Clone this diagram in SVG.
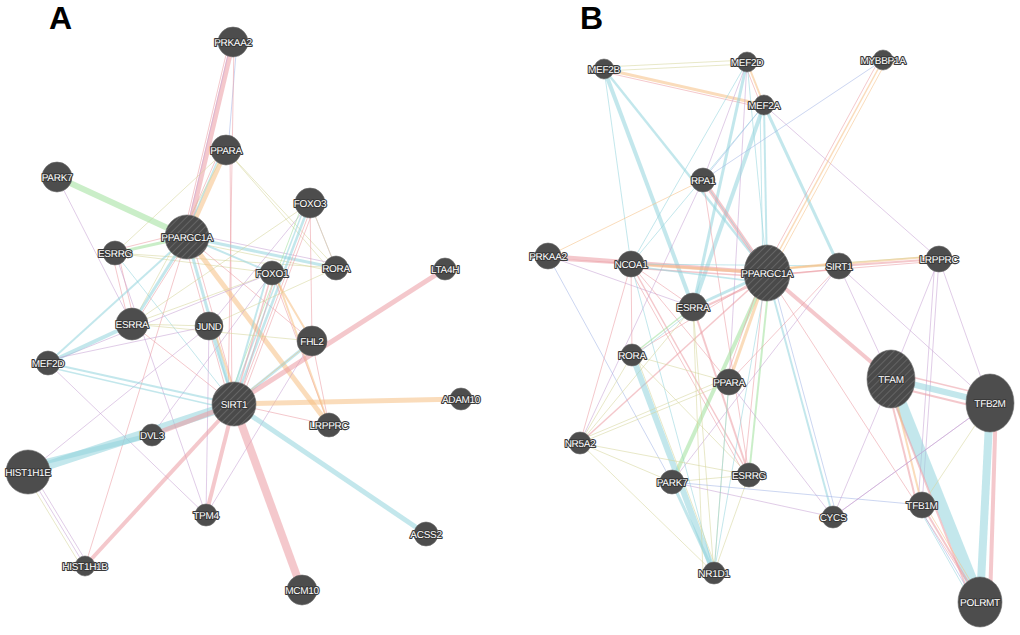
<svg xmlns="http://www.w3.org/2000/svg" width="1020" height="635" viewBox="0 0 1020 635">
<defs>
<pattern id="hatch" patternUnits="userSpaceOnUse" width="5" height="5" patternTransform="rotate(45)">
<rect width="5" height="5" fill="#4a4a4a"/><line x1="0" y1="0" x2="0" y2="5" stroke="#767676" stroke-width="1.2"/>
</pattern>
</defs>
<style>
.e line{stroke-opacity:0.55;stroke-linecap:butt;fill:none}
.r{stroke:#eb9aa3}.c{stroke:#92d3dd}.o{stroke:#f5c083}.g{stroke:#9ee09a}.p{stroke:#c7a3d3}.y{stroke:#d6d69a}.b{stroke:#a3b5e6}
.n circle,.n ellipse{fill:#4d4d4d;stroke:#6a6a6a;stroke-width:0.6}
.n .h{fill:url(#hatch)}
.n text{font-family:"Liberation Sans",Arial,sans-serif;font-size:10px;letter-spacing:-0.3px;fill:#ffffff;stroke:#3a3a3a;stroke-width:2.2;paint-order:stroke fill;text-anchor:middle;stroke-linejoin:round;text-rendering:geometricPrecision}
.lbl{font-family:"Liberation Sans",Arial,sans-serif;font-size:32px;font-weight:bold;fill:#000}
</style>
<rect width="1020" height="635" fill="#fff"/>
<text class="lbl" x="49" y="29">A</text>
<text class="lbl" x="580" y="29">B</text>

<g id="connectors" class="e">
<!-- Panel A -->
<line class="r" x1="233" y1="42" x2="187" y2="237" stroke-width="5"/>
<line class="r" x1="229" y1="42" x2="183" y2="237" stroke-width="1"/>
<line class="p" x1="231" y1="42" x2="185" y2="237" stroke-width="1"/>
<line class="b" x1="237" y1="42" x2="228" y2="150" stroke-width="1"/>
<line class="r" x1="234" y1="42" x2="228" y2="404" stroke-width="1"/>
<line class="o" x1="226" y1="150" x2="187" y2="237" stroke-width="5"/>
<line class="c" x1="222" y1="150" x2="185" y2="237" stroke-width="1.5"/>
<line class="r" x1="220" y1="150" x2="182" y2="237" stroke-width="1"/>
<line class="r" x1="230" y1="150" x2="232" y2="404" stroke-width="1"/>
<line class="y" x1="226" y1="150" x2="115" y2="253" stroke-width="1"/>
<line class="y" x1="226" y1="150" x2="336" y2="268" stroke-width="1"/>
<line class="y" x1="226" y1="150" x2="332" y2="272" stroke-width="1"/>
<line class="y" x1="226" y1="150" x2="132" y2="324" stroke-width="1"/>
<line class="g" x1="57" y1="177" x2="187" y2="237" stroke-width="6"/>
<line class="p" x1="57" y1="177" x2="132" y2="324" stroke-width="1"/>
<line class="g" x1="115" y1="253" x2="187" y2="237" stroke-width="3"/>
<line class="r" x1="115" y1="250" x2="187" y2="232" stroke-width="1"/>
<line class="r" x1="112" y1="253" x2="129" y2="324" stroke-width="1"/>
<line class="r" x1="118" y1="253" x2="135" y2="324" stroke-width="1"/>
<line class="y" x1="115" y1="253" x2="336" y2="268" stroke-width="1"/>
<line class="y" x1="115" y1="253" x2="272" y2="273" stroke-width="1"/>
<line class="p" x1="115" y1="253" x2="206" y2="515" stroke-width="1"/>
<line class="c" x1="115" y1="253" x2="234" y2="404" stroke-width="1"/>
<line class="c" x1="187" y1="237" x2="132" y2="324" stroke-width="3"/>
<line class="r" x1="190" y1="237" x2="135" y2="324" stroke-width="1"/>
<line class="c" x1="187" y1="237" x2="234" y2="404" stroke-width="3"/>
<line class="r" x1="183" y1="237" x2="230" y2="404" stroke-width="1"/>
<line class="r" x1="191" y1="237" x2="238" y2="404" stroke-width="1"/>
<line class="c" x1="187" y1="237" x2="336" y2="268" stroke-width="3"/>
<line class="p" x1="187" y1="233" x2="336" y2="264" stroke-width="1"/>
<line class="y" x1="187" y1="241" x2="336" y2="272" stroke-width="1"/>
<line class="c" x1="187" y1="237" x2="272" y2="273" stroke-width="2"/>
<line class="o" x1="187" y1="237" x2="329" y2="425" stroke-width="5"/>
<line class="r" x1="187" y1="237" x2="312" y2="341" stroke-width="1"/>
<line class="c" x1="187" y1="237" x2="48" y2="363" stroke-width="2"/>
<line class="r" x1="187" y1="237" x2="85" y2="566" stroke-width="1"/>
<line class="p" x1="310" y1="203" x2="336" y2="268" stroke-width="1"/>
<line class="y" x1="310" y1="203" x2="132" y2="324" stroke-width="1"/>
<line class="p" x1="310" y1="203" x2="209" y2="326" stroke-width="1"/>
<line class="c" x1="310" y1="203" x2="234" y2="404" stroke-width="2.5"/>
<line class="c" x1="306" y1="203" x2="230" y2="404" stroke-width="1.5"/>
<line class="r" x1="313" y1="203" x2="237" y2="404" stroke-width="1"/>
<line class="r" x1="316" y1="203" x2="240" y2="404" stroke-width="1"/>
<line class="g" x1="303" y1="203" x2="227" y2="404" stroke-width="1"/>
<line class="r" x1="310" y1="203" x2="312" y2="341" stroke-width="1"/>
<line class="y" x1="310" y1="203" x2="336" y2="268" stroke-width="1"/>
<line class="r" x1="272" y1="273" x2="234" y2="404" stroke-width="1.5"/>
<line class="r" x1="276" y1="273" x2="238" y2="404" stroke-width="1"/>
<line class="c" x1="268" y1="273" x2="230" y2="404" stroke-width="2"/>
<line class="r" x1="272" y1="273" x2="329" y2="425" stroke-width="1"/>
<line class="o" x1="275" y1="273" x2="329" y2="425" stroke-width="2"/>
<line class="o" x1="272" y1="273" x2="312" y2="341" stroke-width="2"/>
<line class="y" x1="272" y1="273" x2="132" y2="324" stroke-width="1"/>
<line class="p" x1="272" y1="273" x2="48" y2="363" stroke-width="1"/>
<line class="p" x1="272" y1="273" x2="152" y2="435" stroke-width="1"/>
<line class="y" x1="336" y1="268" x2="209" y2="326" stroke-width="1"/>
<line class="c" x1="312" y1="341" x2="234" y2="404" stroke-width="3"/>
<line class="o" x1="312" y1="341" x2="238" y2="400" stroke-width="1"/>
<line class="p" x1="312" y1="341" x2="206" y2="515" stroke-width="1"/>
<line class="y" x1="312" y1="341" x2="132" y2="324" stroke-width="1"/>
<line class="r" x1="312" y1="341" x2="329" y2="425" stroke-width="1"/>
<line class="c" x1="209" y1="326" x2="234" y2="404" stroke-width="2"/>
<line class="o" x1="213" y1="326" x2="238" y2="404" stroke-width="2"/>
<line class="p" x1="209" y1="326" x2="206" y2="515" stroke-width="1"/>
<line class="y" x1="209" y1="326" x2="132" y2="324" stroke-width="1"/>
<line class="p" x1="209" y1="326" x2="28" y2="472" stroke-width="1"/>
<line class="r" x1="132" y1="324" x2="234" y2="404" stroke-width="1"/>
<line class="c" x1="48" y1="363" x2="132" y2="324" stroke-width="4"/>
<line class="p" x1="48" y1="360" x2="209" y2="326" stroke-width="1"/>
<line class="c" x1="48" y1="363" x2="234" y2="404" stroke-width="2"/>
<line class="c" x1="48" y1="367" x2="234" y2="410" stroke-width="1.5"/>
<line class="p" x1="48" y1="363" x2="206" y2="515" stroke-width="1"/>
<line class="c" x1="28" y1="472" x2="234" y2="404" stroke-width="9"/>
<line class="c" x1="28" y1="466" x2="152" y2="435" stroke-width="5"/>
<line class="p" x1="28" y1="472" x2="85" y2="566" stroke-width="1"/>
<line class="p" x1="32" y1="472" x2="89" y2="566" stroke-width="1"/>
<line class="y" x1="24" y1="472" x2="81" y2="566" stroke-width="1"/>
<line class="r" x1="152" y1="435" x2="234" y2="404" stroke-width="5"/>
<line class="r" x1="85" y1="566" x2="234" y2="404" stroke-width="4"/>
<line class="r" x1="206" y1="515" x2="234" y2="404" stroke-width="4"/>
<line class="r" x1="302" y1="590" x2="234" y2="404" stroke-width="8"/>
<line class="c" x1="426" y1="534" x2="234" y2="404" stroke-width="5"/>
<line class="o" x1="461" y1="399" x2="234" y2="404" stroke-width="5"/>
<line class="r" x1="445" y1="269" x2="234" y2="404" stroke-width="5"/>
<line class="r" x1="234" y1="404" x2="329" y2="425" stroke-width="1"/>
<!-- Panel B -->
<line class="y" x1="604" y1="67" x2="747" y2="60" stroke-width="1"/>
<line class="y" x1="604" y1="71" x2="747" y2="64" stroke-width="1"/>
<line class="o" x1="604" y1="69" x2="764" y2="105" stroke-width="3"/>
<line class="r" x1="604" y1="72" x2="764" y2="108" stroke-width="1"/>
<line class="o" x1="747" y1="62" x2="764" y2="105" stroke-width="2"/>
<line class="r" x1="744" y1="62" x2="761" y2="105" stroke-width="1"/>
<line class="c" x1="604" y1="69" x2="631" y2="264" stroke-width="1"/>
<line class="c" x1="604" y1="69" x2="693" y2="307" stroke-width="4"/>
<line class="c" x1="604" y1="69" x2="767" y2="273" stroke-width="2.5"/>
<line class="c" x1="747" y1="62" x2="693" y2="307" stroke-width="3"/>
<line class="c" x1="747" y1="62" x2="631" y2="264" stroke-width="1"/>
<line class="c" x1="747" y1="62" x2="767" y2="273" stroke-width="1"/>
<line class="p" x1="747" y1="62" x2="703" y2="180" stroke-width="1"/>
<line class="p" x1="747" y1="62" x2="729" y2="382" stroke-width="1"/>
<line class="c" x1="764" y1="105" x2="693" y2="307" stroke-width="4"/>
<line class="c" x1="764" y1="105" x2="767" y2="273" stroke-width="2"/>
<line class="c" x1="760" y1="105" x2="763" y2="273" stroke-width="1"/>
<line class="c" x1="764" y1="105" x2="839" y2="266" stroke-width="3"/>
<line class="b" x1="764" y1="105" x2="703" y2="180" stroke-width="1"/>
<line class="c" x1="764" y1="105" x2="631" y2="264" stroke-width="1"/>
<line class="p" x1="764" y1="105" x2="939" y2="259" stroke-width="1"/>
<line class="b" x1="883" y1="60" x2="703" y2="180" stroke-width="1"/>
<line class="o" x1="883" y1="60" x2="767" y2="273" stroke-width="1.5"/>
<line class="o" x1="887" y1="60" x2="771" y2="273" stroke-width="1"/>
<line class="r" x1="879" y1="60" x2="763" y2="273" stroke-width="1"/>
<line class="r" x1="703" y1="180" x2="767" y2="273" stroke-width="4"/>
<line class="o" x1="703" y1="180" x2="548" y2="256" stroke-width="1"/>
<line class="c" x1="703" y1="180" x2="767" y2="273" stroke-width="1"/>
<line class="p" x1="703" y1="180" x2="580" y2="443" stroke-width="1"/>
<line class="r" x1="703" y1="180" x2="749" y2="475" stroke-width="1"/>
<line class="r" x1="548" y1="256" x2="767" y2="273" stroke-width="4"/>
<line class="r" x1="548" y1="259" x2="631" y2="264" stroke-width="2"/>
<line class="b" x1="548" y1="256" x2="672" y2="482" stroke-width="1"/>
<line class="p" x1="548" y1="256" x2="693" y2="307" stroke-width="1"/>
<line class="o" x1="631" y1="264" x2="767" y2="273" stroke-width="3"/>
<line class="r" x1="631" y1="268" x2="767" y2="277" stroke-width="1.5"/>
<line class="c" x1="631" y1="264" x2="839" y2="266" stroke-width="1"/>
<line class="c" x1="631" y1="266" x2="767" y2="283" stroke-width="1.5"/>
<line class="r" x1="631" y1="264" x2="632" y2="355" stroke-width="1"/>
<line class="r" x1="631" y1="264" x2="580" y2="443" stroke-width="1"/>
<line class="r" x1="631" y1="264" x2="729" y2="382" stroke-width="1"/>
<line class="r" x1="631" y1="264" x2="749" y2="475" stroke-width="1.5"/>
<line class="r" x1="627" y1="264" x2="745" y2="475" stroke-width="1"/>
<line class="r" x1="631" y1="264" x2="693" y2="307" stroke-width="1"/>
<line class="c" x1="631" y1="264" x2="714" y2="573" stroke-width="1"/>
<line class="o" x1="767" y1="270" x2="839" y2="263" stroke-width="2"/>
<line class="r" x1="767" y1="276" x2="839" y2="269" stroke-width="1.5"/>
<line class="o" x1="767" y1="270" x2="939" y2="256" stroke-width="2"/>
<line class="r" x1="767" y1="275" x2="939" y2="261" stroke-width="1"/>
<line class="r" x1="839" y1="266" x2="939" y2="259" stroke-width="2"/>
<line class="y" x1="839" y1="263" x2="939" y2="256" stroke-width="1"/>
<line class="r" x1="767" y1="273" x2="891" y2="379" stroke-width="4"/>
<line class="c" x1="767" y1="273" x2="693" y2="307" stroke-width="3"/>
<line class="r" x1="767" y1="278" x2="693" y2="312" stroke-width="2"/>
<line class="g" x1="767" y1="273" x2="672" y2="482" stroke-width="4"/>
<line class="g" x1="770" y1="273" x2="749" y2="475" stroke-width="2"/>
<line class="r" x1="765" y1="273" x2="744" y2="475" stroke-width="1"/>
<line class="o" x1="767" y1="273" x2="729" y2="382" stroke-width="3"/>
<line class="r" x1="763" y1="273" x2="725" y2="382" stroke-width="1"/>
<line class="r" x1="767" y1="273" x2="580" y2="443" stroke-width="1.5"/>
<line class="r" x1="767" y1="273" x2="632" y2="355" stroke-width="1"/>
<line class="c" x1="767" y1="273" x2="833" y2="517" stroke-width="2"/>
<line class="b" x1="771" y1="273" x2="837" y2="517" stroke-width="1"/>
<line class="c" x1="767" y1="273" x2="714" y2="573" stroke-width="1"/>
<line class="r" x1="767" y1="273" x2="980" y2="602" stroke-width="1"/>
<line class="r" x1="839" y1="266" x2="729" y2="382" stroke-width="1"/>
<line class="p" x1="839" y1="266" x2="990" y2="403" stroke-width="1"/>
<line class="p" x1="839" y1="266" x2="672" y2="482" stroke-width="1"/>
<line class="p" x1="839" y1="266" x2="891" y2="379" stroke-width="1"/>
<line class="p" x1="939" y1="259" x2="891" y2="379" stroke-width="1"/>
<line class="p" x1="939" y1="259" x2="990" y2="403" stroke-width="1"/>
<line class="p" x1="939" y1="259" x2="922" y2="505" stroke-width="1"/>
<line class="p" x1="935" y1="259" x2="918" y2="505" stroke-width="1"/>
<line class="g" x1="693" y1="307" x2="632" y2="355" stroke-width="1.5"/>
<line class="c" x1="693" y1="310" x2="632" y2="358" stroke-width="1"/>
<line class="r" x1="693" y1="307" x2="749" y2="475" stroke-width="2"/>
<line class="y" x1="693" y1="307" x2="714" y2="573" stroke-width="1"/>
<line class="y" x1="693" y1="307" x2="580" y2="443" stroke-width="1"/>
<line class="c" x1="632" y1="355" x2="714" y2="573" stroke-width="6"/>
<line class="y" x1="636" y1="355" x2="718" y2="573" stroke-width="1"/>
<line class="y" x1="632" y1="355" x2="729" y2="382" stroke-width="1"/>
<line class="y" x1="632" y1="355" x2="749" y2="475" stroke-width="1"/>
<line class="y" x1="580" y1="443" x2="729" y2="382" stroke-width="1"/>
<line class="y" x1="580" y1="440" x2="725" y2="379" stroke-width="1"/>
<line class="y" x1="580" y1="443" x2="749" y2="475" stroke-width="1"/>
<line class="y" x1="580" y1="443" x2="632" y2="355" stroke-width="1"/>
<line class="y" x1="580" y1="443" x2="714" y2="573" stroke-width="1"/>
<line class="y" x1="580" y1="443" x2="672" y2="482" stroke-width="1"/>
<line class="y" x1="729" y1="382" x2="714" y2="573" stroke-width="1"/>
<line class="y" x1="749" y1="475" x2="714" y2="573" stroke-width="1"/>
<line class="y" x1="672" y1="482" x2="749" y2="475" stroke-width="1"/>
<line class="y" x1="693" y1="307" x2="703" y2="573" stroke-width="1"/>
<line class="c" x1="672" y1="482" x2="714" y2="573" stroke-width="3"/>
<line class="c" x1="729" y1="382" x2="714" y2="573" stroke-width="1"/>
<line class="p" x1="729" y1="382" x2="833" y2="517" stroke-width="1"/>
<line class="p" x1="672" y1="482" x2="833" y2="517" stroke-width="1"/>
<line class="b" x1="672" y1="482" x2="922" y2="505" stroke-width="1"/>
<line class="p" x1="833" y1="517" x2="891" y2="379" stroke-width="1"/>
<line class="p" x1="833" y1="517" x2="990" y2="403" stroke-width="1"/>
<line class="c" x1="891" y1="379" x2="990" y2="403" stroke-width="6"/>
<line class="r" x1="891" y1="372" x2="990" y2="396" stroke-width="1.5"/>
<line class="r" x1="891" y1="386" x2="990" y2="410" stroke-width="2"/>
<line class="c" x1="891" y1="379" x2="980" y2="602" stroke-width="12"/>
<line class="r" x1="886" y1="381" x2="972" y2="602" stroke-width="2"/>
<line class="o" x1="891" y1="379" x2="922" y2="505" stroke-width="2"/>
<line class="r" x1="886" y1="379" x2="917" y2="505" stroke-width="2"/>
<line class="c" x1="990" y1="403" x2="980" y2="602" stroke-width="8"/>
<line class="r" x1="996" y1="403" x2="990" y2="602" stroke-width="4"/>
<line class="y" x1="990" y1="403" x2="922" y2="505" stroke-width="1"/>
<line class="p" x1="990" y1="403" x2="833" y2="517" stroke-width="1"/>
<line class="r" x1="922" y1="505" x2="980" y2="602" stroke-width="2"/>
<line class="o" x1="925" y1="505" x2="983" y2="602" stroke-width="1"/>
<line class="b" x1="918" y1="505" x2="975" y2="602" stroke-width="1"/>
<line class="c" x1="917" y1="505" x2="972" y2="602" stroke-width="1"/>
</g>

<!-- Panel A nodes -->
<g id="a-PRKAA2" class="n"><circle cx="233" cy="42" r="15"/><text x="233" y="45.5">PRKAA2</text></g>
<g id="a-PPARA" class="n"><circle cx="226" cy="150" r="15"/><text x="226" y="153.5">PPARA</text></g>
<g id="a-PARK7" class="n"><circle cx="57" cy="177" r="15"/><text x="57" y="180.5">PARK7</text></g>
<g id="a-FOXO3" class="n"><circle cx="310" cy="203" r="15"/><text x="310" y="206.5">FOXO3</text></g>
<g id="a-PPARGC1A" class="n"><circle class="h" cx="187" cy="237" r="22"/><text x="187" y="240.5">PPARGC1A</text></g>
<g id="a-ESRRG" class="n"><circle cx="115" cy="253" r="12"/><text x="115" y="256.5">ESRRG</text></g>
<g id="a-FOXO1" class="n"><circle cx="272" cy="273" r="12"/><text x="272" y="276.5">FOXO1</text></g>
<g id="a-RORA" class="n"><circle cx="336" cy="268" r="12"/><text x="336" y="271.5">RORA</text></g>
<g id="a-LTA4H" class="n"><circle cx="445" cy="269" r="11"/><text x="445" y="272.5">LTA4H</text></g>
<g id="a-ESRRA" class="n"><circle cx="132" cy="324" r="16"/><text x="132" y="327.5">ESRRA</text></g>
<g id="a-JUND" class="n"><circle cx="209" cy="326" r="14"/><text x="209" y="329.5">JUND</text></g>
<g id="a-FHL2" class="n"><circle cx="312" cy="341" r="15"/><text x="312" y="344.5">FHL2</text></g>
<g id="a-MEF2D" class="n"><circle cx="48" cy="363" r="12"/><text x="48" y="366.5">MEF2D</text></g>
<g id="a-SIRT1" class="n"><circle class="h" cx="234" cy="404" r="22"/><text x="234" y="407.5">SIRT1</text></g>
<g id="a-ADAM10" class="n"><circle cx="461" cy="399" r="11"/><text x="461" y="402.5">ADAM10</text></g>
<g id="a-LRPPRC" class="n"><circle cx="329" cy="425" r="12"/><text x="329" y="428.5">LRPPRC</text></g>
<g id="a-DVL3" class="n"><circle cx="152" cy="435" r="11"/><text x="152" y="438.5">DVL3</text></g>
<g id="a-HIST1H1E" class="n"><circle cx="28" cy="472" r="22"/><text x="28" y="475.5">HIST1H1E</text></g>
<g id="a-TPM4" class="n"><circle cx="206" cy="515" r="11"/><text x="206" y="518.5">TPM4</text></g>
<g id="a-ACSS2" class="n"><circle cx="426" cy="534" r="12"/><text x="426" y="537.5">ACSS2</text></g>
<g id="a-HIST1H1B" class="n"><circle cx="85" cy="566" r="10"/><text x="85" y="569.5">HIST1H1B</text></g>
<g id="a-MCM10" class="n"><circle cx="302" cy="590" r="15"/><text x="302" y="593.5">MCM10</text></g>

<!-- Panel B nodes -->
<g id="b-MEF2B" class="n"><circle cx="604" cy="69" r="10"/><text x="604" y="72.5">MEF2B</text></g>
<g id="b-MEF2D" class="n"><circle cx="747" cy="62" r="10"/><text x="747" y="65.5">MEF2D</text></g>
<g id="b-MYBBP1A" class="n"><circle cx="883" cy="60" r="10"/><text x="883" y="63.5">MYBBP1A</text></g>
<g id="b-MEF2A" class="n"><circle cx="764" cy="105" r="10"/><text x="764" y="108.5">MEF2A</text></g>
<g id="b-RPA1" class="n"><circle cx="703" cy="180" r="12"/><text x="703" y="183.5">RPA1</text></g>
<g id="b-PRKAA2" class="n"><circle cx="548" cy="256" r="13"/><text x="548" y="259.5">PRKAA2</text></g>
<g id="b-NCOA1" class="n"><circle cx="631" cy="264" r="13"/><text x="631" y="267.5">NCOA1</text></g>
<g id="b-PPARGC1A" class="n"><ellipse class="h" cx="767" cy="273" rx="23" ry="28"/><text x="767" y="276.5">PPARGC1A</text></g>
<g id="b-SIRT1" class="n"><circle cx="839" cy="266" r="13"/><text x="839" y="269.5">SIRT1</text></g>
<g id="b-LRPPRC" class="n"><circle cx="939" cy="259" r="13"/><text x="939" y="262.5">LRPPRC</text></g>
<g id="b-ESRRA" class="n"><circle cx="693" cy="307" r="14"/><text x="693" y="310.5">ESRRA</text></g>
<g id="b-RORA" class="n"><circle cx="632" cy="355" r="11"/><text x="632" y="358.5">RORA</text></g>
<g id="b-PPARA" class="n"><circle cx="729" cy="382" r="13"/><text x="729" y="385.5">PPARA</text></g>
<g id="b-TFAM" class="n"><ellipse class="h" cx="891" cy="379" rx="24" ry="29"/><text x="891" y="382.5">TFAM</text></g>
<g id="b-TFB2M" class="n"><ellipse cx="990" cy="403" rx="24" ry="29"/><text x="990" y="406.5">TFB2M</text></g>
<g id="b-NR5A2" class="n"><circle cx="580" cy="443" r="11"/><text x="580" y="446.5">NR5A2</text></g>
<g id="b-PARK7" class="n"><circle cx="672" cy="482" r="12"/><text x="672" y="485.5">PARK7</text></g>
<g id="b-ESRRG" class="n"><circle cx="749" cy="475" r="12"/><text x="749" y="478.5">ESRRG</text></g>
<g id="b-CYCS" class="n"><circle cx="833" cy="517" r="11"/><text x="833" y="520.5">CYCS</text></g>
<g id="b-TFB1M" class="n"><circle cx="922" cy="505" r="13"/><text x="922" y="508.5">TFB1M</text></g>
<g id="b-NR1D1" class="n"><circle cx="714" cy="573" r="11"/><text x="714" y="576.5">NR1D1</text></g>
<g id="b-POLRMT" class="n"><ellipse cx="980" cy="602" rx="22" ry="25"/><text x="980" y="605.5">POLRMT</text></g>
</svg>
